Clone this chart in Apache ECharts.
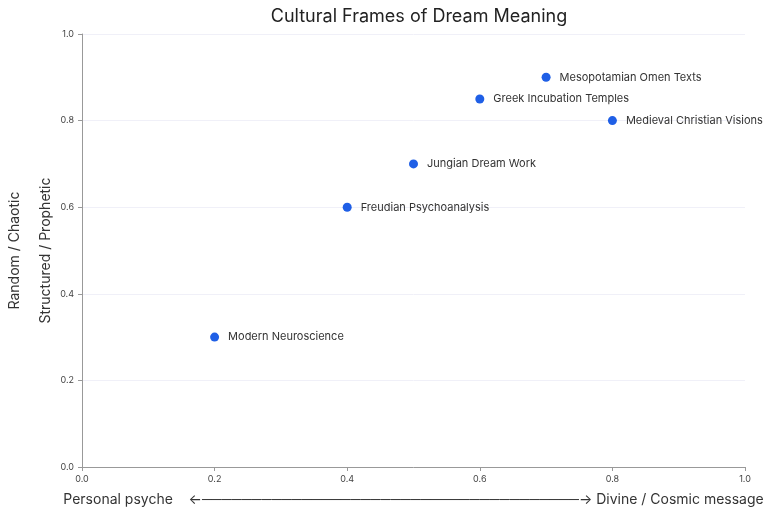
<!DOCTYPE html>
<html>
<head>
<meta charset="utf-8">
<title>Cultural Frames of Dream Meaning</title>
<script src="https://cdn.jsdelivr.net/npm/echarts@6/dist/echarts.min.js"></script>
<style>
  html, body { margin: 0; padding: 0; background: #fff; }
  #chart { width: 768px; height: 515px; }
</style>
</head>
<body>
<div id="chart"></div>
<script>
// traditions plotted on personal→divine (x) and random→structured (y)
var traditions = [
    'Modern Neuroscience',
    'Freudian Psychoanalysis',
    'Jungian Dream Work',
    'Greek Incubation Temples',
    'Mesopotamian Omen Texts',
    'Medieval Christian Visions'
];
var sourceScore = [0.2, 0.4, 0.5, 0.6, 0.7, 0.8];
var structureScore = [0.3, 0.6, 0.7, 0.85, 0.9, 0.8];

var xAxisName = 'Personal psyche    ←──────────────────────────────────────→ Divine / Cosmic message';
var yAxisName = 'Random / Chaotic\nStructured / Prophetic';

var points = traditions.map(function (name, i) {
    return { name: name, value: [sourceScore[i], structureScore[i]] };
});

var myChart = echarts.init(document.getElementById('chart'));

var option = {
    textStyle: { fontFamily: 'Inter, sans-serif' },
    title: {
        text: 'Cultural Frames of Dream Meaning',
        left: 414,
        textAlign: 'center',
        top: 3,
        textStyle: { fontSize: 18, fontWeight: 'normal', color: '#222' }
    },
    grid: { left: 82, right: 23, top: 34, bottom: 48, outerBoundsMode: 'none' },
    xAxis: {
        type: 'value',
        min: 0,
        max: 1,
        interval: 0.2,
        name: xAxisName,
        nameLocation: 'middle',
        nameGap: 26,
        nameTextStyle: { fontSize: 14, color: '#333' },
        axisLine: { show: true, lineStyle: { color: '#999' } },
        axisTick: { show: true, length: 4, lineStyle: { color: '#999' } },
        axisLabel: { fontSize: 9, color: '#444', formatter: function (v) { return v.toFixed(1); } },
        splitLine: { show: false }
    },
    yAxis: {
        type: 'value',
        min: 0,
        max: 1,
        interval: 0.2,
        name: yAxisName,
        nameLocation: 'middle',
        nameGap: 21,
        nameMoveOverlap: false,
        nameTextStyle: { fontSize: 14, color: '#333', lineHeight: 31 },
        axisLine: { show: true, lineStyle: { color: '#999' } },
        axisTick: { show: true, length: 4, lineStyle: { color: '#999' } },
        axisLabel: { fontSize: 9, color: '#444', formatter: function (v) { return v.toFixed(1); } },
        splitLine: { show: true, lineStyle: { color: '#f0f0f8' } }
    },
    series: [{
        type: 'scatter',
        symbolSize: 9,
        itemStyle: { color: '#1f5fe6', opacity: 1 },
        label: {
            show: true,
            position: 'right',
            distance: 9,
            formatter: '{b}',
            fontSize: 11,
            color: '#333'
        },
        data: points
    }]
};

myChart.setOption(option);
</script>
</body>
</html>
